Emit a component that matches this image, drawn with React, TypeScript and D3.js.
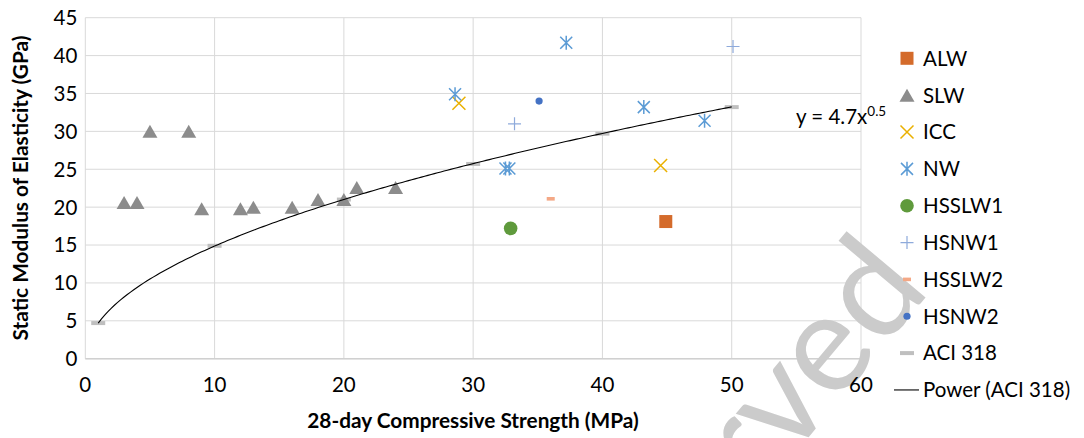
import React from "react";
import * as d3 from "d3";

const W = 1084;
const H = 438;

const xTicks = [0, 10, 20, 30, 40, 50, 60];
const yTicks = [0, 5, 10, 15, 20, 25, 30, 35, 40, 45];

const alwX = [44.9];
const alwY = [18.1];
const slwX = [3, 4, 5, 8, 9, 12, 13, 16, 18, 20, 21, 24];
const slwY = [20.6, 20.6, 30, 30, 19.8, 19.8, 20, 20, 21, 21, 22.6, 22.6];
const iccX = [28.9, 44.5];
const iccY = [33.7, 25.5];
const nwX = [28.6, 37.2, 32.5, 32.8, 43.2, 47.9];
const nwY = [34.9, 41.7, 25.1, 25.1, 33.2, 31.4];
const hsslw1X = [32.9];
const hsslw1Y = [17.2];
const hsnw1X = [33.2, 50.1];
const hsnw1Y = [31.0, 41.2];
const hsslw2X = [36.0];
const hsslw2Y = [21.1];
const hsnw2X = [35.1];
const hsnw2Y = [34.0];
const aciX = [1, 10, 20, 30, 40, 50];
const aciY = [4.7, 14.9, 21.0, 25.7, 29.7, 33.2];
const fitA = 4.7;
const fitB = 0.5;

const legendNames = ["ALW", "SLW", "ICC", "NW", "HSSLW1", "HSNW1", "HSSLW2", "HSNW2", "ACI 318", "Power (ACI 318)"];

const FONT = "Lato, 'Open Sans', sans-serif";
const FS = 20.5;
const FS_TITLE = 20.8;

const C = {
  alw: "#d46b2b",
  slw: "#8c8c8c",
  icc: "#eab000",
  nw: "#5b9bd5",
  hsslw1: "#5f9a3c",
  hsnw1: "#8eaadb",
  hsslw2: "#f4a886",
  hsnw2: "#4472c4",
  aci: "#bfbfbf",
};

type Kind = "square" | "triangle" | "x" | "star" | "circle" | "plus" | "dash" | "dot" | "aci";

function Marker({ kind, cx, cy }: { kind: Kind; cx: number; cy: number }) {
  const t = `translate(${cx},${cy})`;
  switch (kind) {
    case "square":
      return <rect x={cx - 6.5} y={cy - 6.5} width={13} height={13} fill={C.alw} />;
    case "triangle":
      return <path transform={t} d="M0,-6.5 L7.5,6.5 L-7.5,6.5 Z" fill={C.slw} />;
    case "x":
      return (
        <path transform={t} d="M-6.5,-6.5 L6.5,6.5 M-6.5,6.5 L6.5,-6.5" stroke={C.icc} strokeWidth={1.5} fill="none" />
      );
    case "star":
      return (
        <path
          transform={t}
          d="M-6,-6 L6,6 M-6,6 L6,-6 M0,-7 L0,7"
          stroke={C.nw}
          strokeWidth={1.5}
          fill="none"
        />
      );
    case "circle":
      return <circle cx={cx} cy={cy} r={6.8} fill={C.hsslw1} />;
    case "plus":
      return <path transform={t} d="M-6.5,0 L6.5,0 M0,-6.5 L0,6.5" stroke={C.hsnw1} strokeWidth={1.2} fill="none" />;
    case "dash":
      return <rect x={cx - 4} y={cy - 1.8} width={8} height={3.6} fill={C.hsslw2} />;
    case "dot":
      return <circle cx={cx} cy={cy} r={3.6} fill={C.hsnw2} />;
    case "aci":
      return <rect x={cx - 7} y={cy - 2} width={14} height={4} fill={C.aci} />;
  }
  return null;
}

export default function App() {
  const x = d3.scaleLinear().domain([0, 60]).range([85.3, 861]);
  const y = d3.scaleLinear().domain([0, 45]).range([358.7, 17.7]);

  const fitXs = d3.range(1, 50.0001, 0.25);
  const line = d3
    .line<number>()
    .x((d) => x(d))
    .y((d) => y(fitA * Math.pow(d, fitB)))
    .curve(d3.curveLinear);

  const groups: { kind: Kind; xs: number[]; ys: number[] }[] = [
    { kind: "aci", xs: aciX, ys: aciY },
    { kind: "triangle", xs: slwX, ys: slwY },
    { kind: "square", xs: alwX, ys: alwY },
    { kind: "circle", xs: hsslw1X, ys: hsslw1Y },
    { kind: "dash", xs: hsslw2X, ys: hsslw2Y },
    { kind: "dot", xs: hsnw2X, ys: hsnw2Y },
    { kind: "plus", xs: hsnw1X, ys: hsnw1Y },
    { kind: "x", xs: iccX, ys: iccY },
    { kind: "star", xs: nwX, ys: nwY },
  ];

  const legendKinds: (Kind | "line")[] = ["square", "triangle", "x", "star", "circle", "plus", "dash", "dot", "aci", "line"];
  const legendY0 = 58.3;
  const legendStep = 36.85;

  return (
    <svg
      width={W}
      height={H}
      style={{ position: "absolute", left: 0, top: 0, display: "block", background: "#fff" }}
      fontFamily={FONT}
    >
      <rect x={0} y={0} width={W} height={H} fill="#fff" />
      {/* gridlines */}
      {yTicks.map((t) => (
        <line key={"gy" + t} x1={x(0)} x2={x(60)} y1={y(t)} y2={y(t)} stroke="#d9d9d9" strokeWidth={1} />
      ))}
      {xTicks.map((t) => (
        <line key={"gx" + t} x1={x(t)} x2={x(t)} y1={y(0)} y2={y(45)} stroke="#d9d9d9" strokeWidth={1} />
      ))}
      <line x1={x(0)} x2={x(60)} y1={y(0)} y2={y(0)} stroke="#d0d0d0" strokeWidth={1.5} />

      {/* markers */}
      {groups.map((g) =>
        g.xs.map((xv, i) => <Marker key={g.kind + i} kind={g.kind} cx={x(xv)} cy={y(g.ys[i])} />)
      )}

      {/* trendline */}
      <path d={line(fitXs) || ""} fill="none" stroke="#000" strokeWidth={1.1} />

      {/* watermark */}
      <text
        transform="translate(932,290) rotate(-50)"
        textAnchor="end"
        fontSize={140}
        fill="#cbcbcb"
        fontFamily={FONT}
      >
        reserved
      </text>

      {/* y tick labels */}
      {yTicks.map((t) => (
        <text key={"ty" + t} x={x(0) - 8} y={y(t)} dy="0.36em" textAnchor="end" fontSize={FS} fill="#000">
          {t}
        </text>
      ))}
      {/* x tick labels */}
      {xTicks.map((t) => (
        <text key={"tx" + t} x={x(t)} y={392} textAnchor="middle" fontSize={FS} fill="#000">
          {t}
        </text>
      ))}

      {/* axis titles */}
      <text x={473} y={428} textAnchor="middle" fontSize={FS_TITLE} fontWeight="bold" fill="#000">
        28-day Compressive Strength (MPa)
      </text>
      <text
        transform={`translate(28,188) rotate(-90)`}
        textAnchor="middle"
        fontSize={FS_TITLE}
        fontWeight="bold"
        fill="#000"
      >
        Static Modulus of Elasticity (GPa)
      </text>

      {/* equation */}
      <text x={796} y={124} fontSize={FS} fill="#000">
        y = {fitA}x
        <tspan dy={-8} fontSize={13.5}>
          {fitB}
        </tspan>
      </text>

      {/* legend */}
      {legendNames.map((name, i) => {
        const cy = legendY0 + i * legendStep;
        const k = legendKinds[i];
        return (
          <g key={name}>
            {k === "line" ? (
              <line x1={894} x2={919} y1={cy} y2={cy} stroke="#000" strokeWidth={1.1} />
            ) : (
              <Marker kind={k} cx={907} cy={cy} />
            )}
            <text x={923} y={cy} dy="0.36em" fontSize={FS} fill="#000">
              {name}
            </text>
          </g>
        );
      })}
    </svg>
  );
}
